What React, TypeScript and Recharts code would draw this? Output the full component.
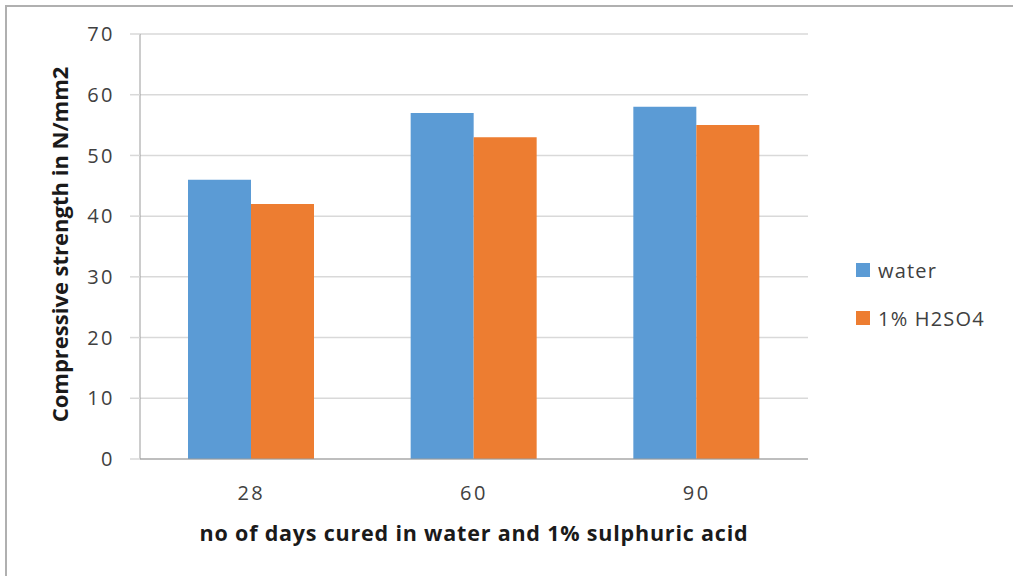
import React from 'react';
import { BarChart, Bar, XAxis, YAxis, CartesianGrid, Legend, Label } from 'recharts';

const DAYS = ['28', '60', '90'];
const WATER = [46, 57, 58];
const ACID = [42, 53, 55];
const SERIES = ['water', '1% H2SO4'];
const Y_TICKS = [0, 10, 20, 30, 40, 50, 60, 70];
const EDGE_TICKS = [0, 1, 2, 3];

const data = DAYS.map((d, i) => ({ day: d, water: WATER[i], acid: ACID[i] }));

const FONT = '"Open Sans", sans-serif';

const LegendBox = (props: any) => {
  const items = [...(props.payload || [])].sort(
    (a: any, b: any) => SERIES.indexOf(a.value) - SERIES.indexOf(b.value)
  );
  return (
    <div style={{ fontFamily: FONT }}>
      {items.map((p: any) => (
        <div key={p.value} style={{ display: 'flex', alignItems: 'center', height: 48 }}>
          <span style={{ width: 14, height: 14, background: p.color, marginRight: 8 }} />
          <span style={{ fontSize: 20, color: '#404040', letterSpacing: 1.2 }}>{p.value}</span>
        </div>
      ))}
    </div>
  );
};

export default function App() {
  return (
    <div style={{ position: 'absolute', left: 0, top: 0, width: 1013, height: 576, background: '#fff', overflow: 'hidden' }}>
      <div
        style={{
          position: 'absolute',
          left: 5,
          top: 5,
          right: -10,
          bottom: -10,
          borderTop: '2px solid #b0b0b0',
          borderLeft: '2px solid #b0b0b0',
        }}
      />
      <BarChart
        width={1013}
        height={576}
        data={data}
        margin={{ top: 34, right: 205, left: 0, bottom: 0 }}
        barGap={0}
        style={{ fontFamily: FONT }}
      >
        <CartesianGrid vertical={false} stroke="#d9d9d9" strokeWidth={1.5} />
        <XAxis
          xAxisId="cat"
          dataKey="day"
          height={116}
          axisLine={false}
          tickLine={false}
          tickSize={6}
          tickMargin={20}
          tick={{ fontSize: 20, fill: '#404040', fontFamily: FONT, letterSpacing: 2.5 }}
        >
          <Label
            value="no of days cured in water and 1% sulphuric acid"
            position="insideBottom"
            offset={35}
            style={{ fontSize: 21.5, fontWeight: 700, fill: '#1a1a1a', fontFamily: FONT, letterSpacing: 0.8 }}
          />
        </XAxis>
        <XAxis
          xAxisId="aEdge"
          type="number"
          domain={[0, 3]}
          allowDataOverflow
          ticks={EDGE_TICKS}
          tick={false}
          height={1}
          tickSize={8}
          stroke="#8c8c8c"
          tickLine={{ stroke: '#8c8c8c' }}
          axisLine={{ stroke: '#9a9a9a' }}
        />
        <YAxis
          width={140}
          domain={[0, 70]}
          ticks={Y_TICKS}
          tickSize={10}
          tickMargin={15}
          tickLine={{ stroke: '#d9d9d9', strokeWidth: 1.5 }}
          axisLine={{ stroke: '#9a9a9a' }}
          tick={{ fontSize: 20, fill: '#404040', fontFamily: FONT, letterSpacing: 2.5 }}
        >
          <Label
            value="Compressive strength in N/mm2"
            angle={-90}
            position="center"
            dx={-10}
            dy={-2}
            style={{ fontSize: 22, fontWeight: 700, fill: '#1a1a1a', fontFamily: FONT, textAnchor: 'middle' }}
          />
        </YAxis>
        <Legend
          layout="vertical"
          align="center"
          verticalAlign="middle"
          wrapperStyle={{ left: 856, top: 246, width: 150 }}
          content={<LegendBox />}
        />
        <Bar xAxisId="cat" dataKey="water" name="water" fill="#5b9bd5" barSize={63} isAnimationActive={false} />
        <Bar xAxisId="cat" dataKey="acid" name="1% H2SO4" fill="#ed7d31" barSize={63} isAnimationActive={false} />
      </BarChart>
    </div>
  );
}
